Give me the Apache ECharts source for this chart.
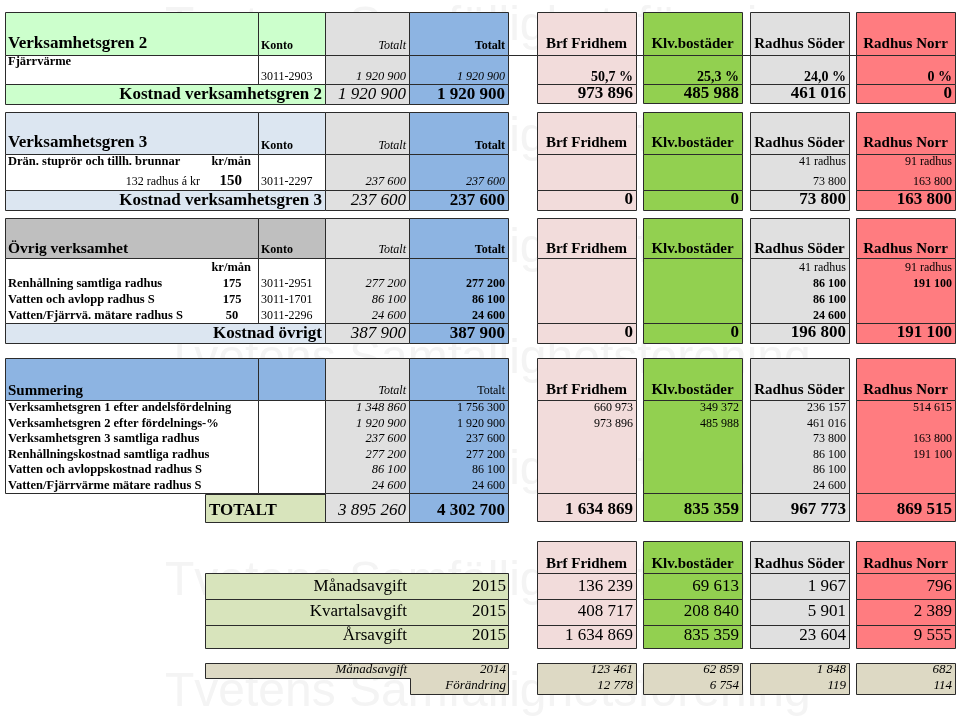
<!DOCTYPE html>
<html>
<head>
<meta charset="utf-8">
<script src="https://cdn.jsdelivr.net/npm/echarts@6/dist/echarts.min.js"></script>
<style>html,body{margin:0;padding:0;background:#fff}#chart{width:960px;height:724px}</style>
</head>
<body>
<div id="chart"></div>
<script>
// ---------------- DATA ----------------
const companies = ['Brf Fridhem', 'Klv.bostäder', 'Radhus Söder', 'Radhus Norr'];

// Verksamhetsgren 2
const vg2Title = 'Verksamhetsgren 2';
const vg2Label = 'Fjärrvärme';
const vg2Konto = '3011-2903';
const vg2Totalt = 1920900;
const vg2Share = ['50,7 %', '25,3 %', '24,0 %', '0 %'];
const vg2Cost = [973896, 485988, 461016, 0];

// Verksamhetsgren 3
const vg3Title = 'Verksamhetsgren 3';
const vg3Label = 'Drän. stuprör och tillh. brunnar';
const vg3Houses = 132;
const vg3Rate = 150;
const vg3Konto = '3011-2297';
const vg3Totalt = 237600;
const houseCounts = [null, null, 41, 91];
const vg3Alloc = [null, null, 73800, 163800];
const vg3Cost = [0, 0, 73800, 163800];

// Övrig verksamhet
const ovrTitle = 'Övrig verksamhet';
const ovrLabels = ['Renhållning samtliga radhus', 'Vatten och avlopp radhus S', 'Vatten/Fjärrvä. mätare radhus S'];
const ovrRates = [175, 175, 50];
const ovrKonto = ['3011-2951', '3011-1701', '3011-2296'];
const ovrTotalt = [277200, 86100, 24600];
const ovrSoder = [86100, 86100, 24600];
const ovrNorr = [191100, null, null];
const ovrSum = 387900;
const ovrCost = [0, 0, 196800, 191100];

// Summering
const sumLabels = ['Verksamhetsgren 1 efter andelsfördelning', 'Verksamhetsgren 2 efter fördelnings-%',
  'Verksamhetsgren 3 samtliga radhus', 'Renhållningskostnad samtliga radhus',
  'Vatten och avloppskostnad radhus S', 'Vatten/Fjärrvärme mätare radhus S'];
const sumTotaltGray = [1348860, 1920900, 237600, 277200, 86100, 24600];
const sumTotaltBlue = [1756300, 1920900, 237600, 277200, 86100, 24600];
const sumBrf = [660973, 973896, null, null, null, null];
const sumKlv = [349372, 485988, null, null, null, null];
const sumSoder = [236157, 461016, 73800, 86100, 86100, 24600];
const sumNorr = [514615, null, 163800, 191100, null, null];
const totGray = 3895260;
const totBlue = 4302700;
const totCompany = [1634869, 835359, 967773, 869515];

// Avgifter
const feeLabels = ['Månadsavgift', 'Kvartalsavgift', 'Årsavgift'];
const feeYear = 2015;
const feeBrf = [136239, 408717, 1634869];
const feeKlv = [69613, 208840, 835359];
const feeSoder = [1967, 5901, 23604];
const feeNorr = [796, 2389, 9555];
const prevLabel = 'Månadsavgift';
const prevYear = 2014;
const changeLabel = 'Förändring';
const fee2014 = [123461, 62859, 1848, 682];
const feeChange = [12778, 6754, 119, 114];

const watermark = 'Tvetens Samfällighetsförening';

// ---------------- LAYOUT / STYLE ----------------
const SERIF = '"Liberation Serif","Times New Roman",serif';
const f = (size, bold, italic) => (italic ? 'italic ' : '') + (bold ? 'bold ' : '') + size + 'px ' + SERIF;
const fmt = n => (n === null || n === undefined) ? '' : String(n).replace(/\B(?=(\d{3})+(?!\d))/g, ' ');

const C_GREEN1 = '#ccffcc', C_BLUEGRAY = '#dce6f1', C_GRAY3 = '#bfbfbf', C_BLUE = '#8db4e2',
  C_GRAY = '#e0e0e0', C_TOTGREEN = '#d8e4bc', C_TAN = '#ddd9c4', C_WHITE = '#ffffff';
const COMP_FILL = ['#f2dcdb', '#92d050', '#e0e0e0', '#ff7c80'];
const LBL = 12.5;

const XL = 5, XK = 258, XG = 325, XB = 409, XE = 508;
const CO = [[537, 636], [643, 742], [750, 849], [856, 955]];

const cells = [];
function cell(x0, x1, y0, y1, fill, stroke) {
  const c = { kind: 'rect', x0, x1, y0, y1, fill, stroke: stroke !== false, texts: [] };
  cells.push(c); return c;
}
function txt(c, t, align, y, font, x, color) {
  if (x === undefined) x = align === 'left' ? c.x0 + 3 : align === 'right' ? c.x1 - 3 : (c.x0 + c.x1) / 2;
  c.texts.push({ t: String(t), align, x, y, font, color: color || '#000' });
}

// watermark (behind everything)
[27, 138, 249, 360, 471, 582, 693].forEach(y => {
  const c = { kind: 'none', x0: 165, x1: 165, y0: y, y1: y, texts: [] };
  cells.push(c);
  txt(c, watermark, 'left', y, '48px "Liberation Sans",Arial,sans-serif', 165, '#f4f4f4');
});

let c;
// ===== Section: Verksamhetsgren 2 =====
{
  const y0 = 12, yH = 55, yD = 84, yB = 104;
  const l = { kind: 'line', x0: XE, x1: CO[3][1], y0: yH, y1: yH, texts: [] }; cells.push(l);
  c = cell(XL, XK, y0, yH, C_GREEN1); txt(c, vg2Title, 'left', 44, f(17, 1));
  c = cell(XK, XG, y0, yH, C_GREEN1); txt(c, 'Konto', 'left', 46, f(12, 1));
  c = cell(XG, XB, y0, yH, C_GRAY); txt(c, 'Totalt', 'right', 46, f(12, 0, 1));
  c = cell(XB, XE, y0, yH, C_BLUE); txt(c, 'Totalt', 'right', 46, f(12, 1));
  c = cell(XL, XK, yH, yD, C_WHITE); txt(c, vg2Label, 'left', 62, f(LBL, 1));
  c = cell(XK, XG, yH, yD, C_WHITE); txt(c, vg2Konto, 'left', 77, f(12));
  c = cell(XG, XB, yH, yD, C_GRAY); txt(c, fmt(vg2Totalt), 'right', 77, f(12.5, 0, 1));
  c = cell(XB, XE, yH, yD, C_BLUE); txt(c, fmt(vg2Totalt), 'right', 77, f(12, 0, 1));
  c = cell(XL, XG, yD, yB, C_GREEN1); txt(c, 'Kostnad ' + vg2Title.toLowerCase(), 'right', 95, f(17, 1));
  c = cell(XG, XB, yD, yB, C_GRAY); txt(c, fmt(vg2Totalt), 'right', 95, f(17, 0, 1));
  c = cell(XB, XE, yD, yB, C_BLUE); txt(c, fmt(vg2Totalt), 'right', 95, f(17, 1));
  companies.forEach((name, i) => {
    const [a, b] = CO[i];
    c = cell(a, b, y0, yH, COMP_FILL[i]); txt(c, name, 'center', 44, f(15, 1));
    c = cell(a, b, yH, yD, COMP_FILL[i]); txt(c, vg2Share[i], 'right', 77, f(14, 1));
    c = cell(a, b, yD, yB - 1, COMP_FILL[i]); txt(c, fmt(vg2Cost[i]), 'right', 94, f(17, 1));
  });
}
// ===== Section: Verksamhetsgren 3 =====
{
  const y0 = 112, yH = 154, yD = 190, yB = 210;
  c = cell(XL, XK, y0, yH, C_BLUEGRAY); txt(c, vg3Title, 'left', 143, f(17, 1));
  c = cell(XK, XG, y0, yH, C_BLUEGRAY); txt(c, 'Konto', 'left', 146, f(12, 1));
  c = cell(XG, XB, y0, yH, C_GRAY); txt(c, 'Totalt', 'right', 146, f(12, 0, 1));
  c = cell(XB, XE, y0, yH, C_BLUE); txt(c, 'Totalt', 'right', 146, f(12, 1));
  c = cell(XL, XK, yH, yD, C_WHITE);
  txt(c, vg3Label, 'left', 162, f(LBL, 1));
  txt(c, 'kr/mån', 'right', 162, f(LBL, 1), 251);
  txt(c, vg3Houses + ' radhus á kr', 'right', 182, f(12), 200);
  txt(c, vg3Rate, 'right', 181, f(15, 1), 242);
  c = cell(XK, XG, yH, yD, C_WHITE); txt(c, vg3Konto, 'left', 182, f(12));
  c = cell(XG, XB, yH, yD, C_GRAY); txt(c, fmt(vg3Totalt), 'right', 182, f(12.5, 0, 1));
  c = cell(XB, XE, yH, yD, C_BLUE); txt(c, fmt(vg3Totalt), 'right', 182, f(12, 0, 1));
  c = cell(XL, XG, yD, yB, C_BLUEGRAY); txt(c, 'Kostnad ' + vg3Title.toLowerCase(), 'right', 201, f(17, 1));
  c = cell(XG, XB, yD, yB, C_GRAY); txt(c, fmt(vg3Totalt), 'right', 201, f(17, 0, 1));
  c = cell(XB, XE, yD, yB, C_BLUE); txt(c, fmt(vg3Totalt), 'right', 201, f(17, 1));
  companies.forEach((name, i) => {
    const [a, b] = CO[i];
    c = cell(a, b, y0, yH, COMP_FILL[i]); txt(c, name, 'center', 143, f(15, 1));
    c = cell(a, b, yH, yD, COMP_FILL[i]);
    if (houseCounts[i] !== null) txt(c, houseCounts[i] + ' radhus', 'right', 162, f(12));
    if (vg3Alloc[i] !== null) txt(c, fmt(vg3Alloc[i]), 'right', 182, f(12));
    c = cell(a, b, yD, yB, COMP_FILL[i]); txt(c, fmt(vg3Cost[i]), 'right', 200, f(17, 1));
  });
}
// ===== Section: Övrig verksamhet =====
{
  const y0 = 218, yH = 258, yD = 323, yB = 343;
  const rowsY = [284, 300, 316];
  c = cell(XL, XK, y0, yH, C_GRAY3); txt(c, ovrTitle, 'left', 249, f(15.5, 1));
  c = cell(XK, XG, y0, yH, C_GRAY3); txt(c, 'Konto', 'left', 250, f(12, 1));
  c = cell(XG, XB, y0, yH, C_GRAY); txt(c, 'Totalt', 'right', 250, f(12, 0, 1));
  c = cell(XB, XE, y0, yH, C_BLUE); txt(c, 'Totalt', 'right', 250, f(12, 1));
  c = cell(XL, XK, yH, yD, C_WHITE);
  txt(c, 'kr/mån', 'right', 268, f(LBL, 1), 251);
  ovrLabels.forEach((lb, k) => { txt(c, lb, 'left', rowsY[k], f(LBL, 1)); txt(c, ovrRates[k], 'center', rowsY[k], f(LBL, 1), 232); });
  c = cell(XK, XG, yH, yD, C_WHITE); ovrKonto.forEach((k2, k) => txt(c, k2, 'left', rowsY[k], f(12)));
  c = cell(XG, XB, yH, yD, C_GRAY); ovrTotalt.forEach((v, k) => txt(c, fmt(v), 'right', rowsY[k], f(12.5, 0, 1)));
  c = cell(XB, XE, yH, yD, C_BLUE); ovrTotalt.forEach((v, k) => txt(c, fmt(v), 'right', rowsY[k], f(12, 1)));
  c = cell(XL, XG, yD, yB, C_BLUEGRAY); txt(c, 'Kostnad övrigt', 'right', 334, f(17, 1));
  c = cell(XG, XB, yD, yB, C_GRAY); txt(c, fmt(ovrSum), 'right', 334, f(17, 0, 1));
  c = cell(XB, XE, yD, yB, C_BLUE); txt(c, fmt(ovrSum), 'right', 334, f(17, 1));
  companies.forEach((name, i) => {
    const [a, b] = CO[i];
    c = cell(a, b, y0, yH, COMP_FILL[i]); txt(c, name, 'center', 249, f(15, 1));
    c = cell(a, b, yH, yD, COMP_FILL[i]);
    if (houseCounts[i] !== null) txt(c, houseCounts[i] + ' radhus', 'right', 268, f(12));
    const col = i === 2 ? ovrSoder : i === 3 ? ovrNorr : null;
    if (col) col.forEach((v, k) => { if (v !== null) txt(c, fmt(v), 'right', rowsY[k], f(12, 1)); });
    c = cell(a, b, yD, yB, COMP_FILL[i]); txt(c, fmt(ovrCost[i]), 'right', 333, f(17, 1));
  });
}
// ===== Section: Summering =====
{
  const y0 = 358, yH = 400, yD = 493, yB = 522;
  const rowsY = [408, 424, 439, 455, 470, 486];
  c = cell(XL, XK, y0, yH, C_BLUE); txt(c, 'Summering', 'left', 391, f(15, 1));
  c = cell(XK, XG, y0, yH, C_BLUE);
  c = cell(XG, XB, y0, yH, C_GRAY); txt(c, 'Totalt', 'right', 391, f(12, 0, 1));
  c = cell(XB, XE, y0, yH, C_BLUE); txt(c, 'Totalt', 'right', 391, f(12));
  c = cell(XL, XK, yH, yD, C_WHITE); sumLabels.forEach((lb, k) => txt(c, lb, 'left', rowsY[k], f(LBL, 1)));
  c = cell(XK, XG, yH, yD, C_WHITE);
  c = cell(XG, XB, yH, yD, C_GRAY); sumTotaltGray.forEach((v, k) => txt(c, fmt(v), 'right', rowsY[k], f(12.5, 0, 1)));
  c = cell(XB, XE, yH, yD, C_BLUE); sumTotaltBlue.forEach((v, k) => txt(c, fmt(v), 'right', rowsY[k], f(12)));
  c = cell(205, XG, yD + 1, yB, C_TOTGREEN); txt(c, 'TOTALT', 'left', 511, f(17, 1), 209);
  c = cell(XG, XB, yD, yB, C_GRAY); txt(c, fmt(totGray), 'right', 511, f(17, 0, 1));
  c = cell(XB, XE, yD, yB, C_BLUE); txt(c, fmt(totBlue), 'right', 511, f(17, 1));
  const cols = [sumBrf, sumKlv, sumSoder, sumNorr];
  companies.forEach((name, i) => {
    const [a, b] = CO[i];
    c = cell(a, b, y0, yH, COMP_FILL[i]); txt(c, name, 'center', 390, f(15, 1));
    c = cell(a, b, yH, yD, COMP_FILL[i]); cols[i].forEach((v, k) => { if (v !== null) txt(c, fmt(v), 'right', rowsY[k], f(12)); });
    c = cell(a, b, yD, yB - 1, COMP_FILL[i]); txt(c, fmt(totCompany[i]), 'right', 510, f(17, 1));
  });
}
// ===== Section: Avgifter =====
{
  const y0 = 541, rows = [573, 599, 625, 648], rowsY = [587, 612, 636];
  const fees = [feeBrf, feeKlv, feeSoder, feeNorr];
  feeLabels.forEach((lb, k) => {
    c = cell(205, XE, rows[k], rows[k + 1], C_TOTGREEN);
    txt(c, lb, 'right', rowsY[k], f(17), 407);
    txt(c, feeYear, 'right', rowsY[k], f(17), 506);
  });
  companies.forEach((name, i) => {
    const [a, b] = CO[i];
    c = cell(a, b, y0, rows[0], COMP_FILL[i]); txt(c, name, 'center', 564, f(15, 1));
    fees[i].forEach((v, k) => { c = cell(a, b, rows[k], rows[k + 1], COMP_FILL[i]); txt(c, fmt(v), 'right', rowsY[k], f(17)); });
  });
  // previous year block (stepped shape)
  const p = { kind: 'poly', pts: [[205, 663], [XE, 663], [XE, 694], [410, 694], [410, 678], [205, 678]], fill: C_TAN, x0: 205, x1: XE, y0: 663, y1: 694, texts: [] };
  cells.push(p);
  txt(p, prevLabel, 'right', 670, f(13, 0, 1), 407);
  txt(p, prevYear, 'right', 670, f(13, 0, 1), 506);
  txt(p, changeLabel, 'right', 686, f(13, 0, 1), 506);
  companies.forEach((name, i) => {
    const [a, b] = CO[i];
    c = cell(a, b, 663, 694, C_TAN);
    txt(c, fmt(fee2014[i]), 'right', 670, f(13, 0, 1));
    txt(c, fmt(feeChange[i]), 'right', 686, f(13, 0, 1));
  });
}

// ---------------- CHART ----------------
const chart = echarts.init(document.getElementById('chart'), null, { renderer: 'canvas' });
const snap = v => Math.round(v) + 0.5;
chart.setOption({
  animation: false,
  backgroundColor: '#ffffff',
  grid: { left: 0, right: 0, top: 0, bottom: 0 },
  xAxis: { type: 'value', min: 0, max: 960, show: false },
  yAxis: { type: 'value', min: 0, max: 724, inverse: true, show: false },
  series: [{
    type: 'custom',
    silent: true,
    clip: false,
    encode: { x: [0, 2], y: [1, 3] },
    data: cells.map(c => [c.x0, c.y0, c.x1, c.y1]),
    renderItem: function (params, api) {
      const cc = cells[params.dataIndex];
      const children = [];
      if (cc.kind === 'rect') {
        const p0 = api.coord([cc.x0, cc.y0]), p1 = api.coord([cc.x1, cc.y1]);
        const x = snap(p0[0]), y = snap(p0[1]);
        children.push({ type: 'rect', shape: { x, y, width: snap(p1[0]) - x, height: snap(p1[1]) - y },
          style: { fill: cc.fill || 'none', stroke: cc.stroke ? '#2b2b2b' : null, lineWidth: 1 } });
      } else if (cc.kind === 'poly') {
        const pts = cc.pts.map(q => { const r = api.coord(q); return [snap(r[0]), snap(r[1])]; });
        children.push({ type: 'polygon', shape: { points: pts }, style: { fill: cc.fill, stroke: '#2b2b2b', lineWidth: 1 } });
      } else if (cc.kind === 'line') {
        const p0 = api.coord([cc.x0, cc.y0]), p1 = api.coord([cc.x1, cc.y1]);
        children.push({ type: 'line', shape: { x1: p0[0], y1: snap(p0[1]), x2: p1[0], y2: snap(p1[1]) }, style: { stroke: '#2b2b2b', lineWidth: 1 } });
      }
      cc.texts.forEach(t => {
        const p = api.coord([t.x, t.y]);
        children.push({ type: 'text', x: p[0], y: p[1],
          style: { text: t.t, align: t.align, verticalAlign: 'middle', font: t.font, fill: t.color } });
      });
      return { type: 'group', children };
    }
  }]
});
</script>
</body>
</html>
